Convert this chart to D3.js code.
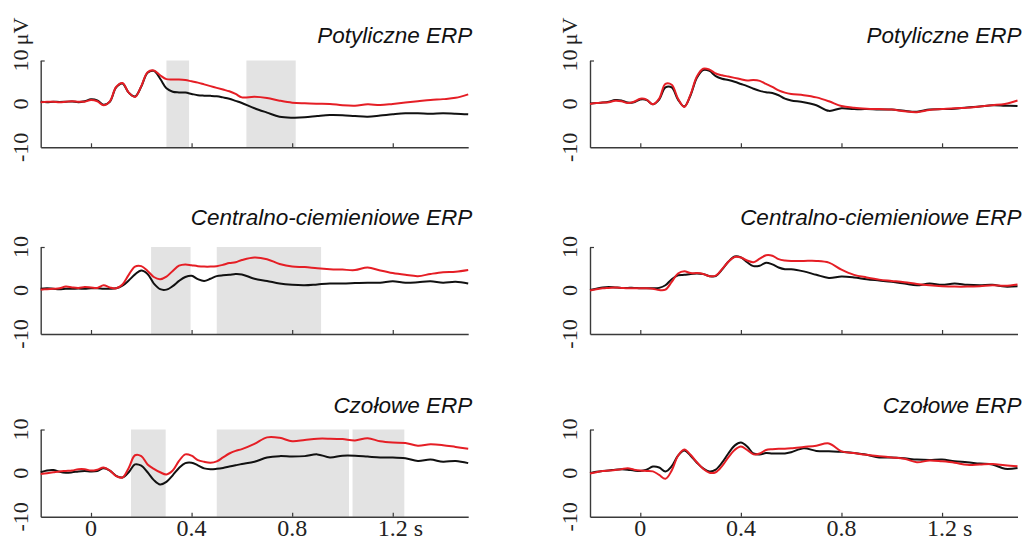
<!DOCTYPE html>
<html><head><meta charset="utf-8">
<script src="https://cdn.jsdelivr.net/npm/d3@7"></script>
<style>html,body{margin:0;padding:0;background:#fff;}svg{display:block;}</style>
</head><body>
<svg id="chart" width="1024" height="542"></svg>
<script>
const times = [-0.2,-0.175,-0.15,-0.125,-0.1,-0.075,-0.05,-0.025,0,0.025,0.05,0.075,0.1,0.125,0.15,0.175,0.2,0.225,0.25,0.275,0.3,0.325,0.35,0.375,0.4,0.425,0.45,0.475,0.5,0.525,0.55,0.575,0.6,0.65,0.7,0.75,0.8,0.85,0.9,0.95,1.0,1.05,1.1,1.15,1.2,1.25,1.3,1.35,1.4,1.45,1.5];

const tl_black = [0.5,0.4,0.5,0.45,0.5,0.55,0.4,0.6,1.05,0.8,-0.2,0.5,3.8,4.7,2.6,1.7,4.0,7.2,7.6,5.8,3.6,2.8,2.65,2.6,2.3,2.0,1.9,1.85,1.75,1.5,1.2,0.7,0.2,-1.0,-2.0,-2.95,-3.17,-3.1,-2.8,-2.56,-2.6,-2.8,-2.95,-2.7,-2.4,-2.17,-2.17,-2.25,-2.17,-2.25,-2.4];
const tl_red   = [0.4,0.5,0.5,0.4,0.5,0.6,0.5,0.5,0.9,0.6,-0.3,0.6,3.9,4.8,2.6,1.6,4.1,7.3,7.7,6.6,5.7,5.6,5.6,5.5,5.2,4.9,4.5,4.1,3.7,3.3,2.9,2.3,1.5,1.65,1.36,0.75,0.28,0.13,0.05,0.0,-0.3,-0.4,-0.1,-0.25,0.0,0.3,0.6,0.9,1.1,1.4,2.2];

const tr_black = [0.1,0.2,0.3,0.5,0.9,0.8,0.3,0.4,1.0,0.9,-0.1,1.0,3.8,3.8,1.0,-0.6,2.0,6.0,7.8,7.6,6.4,5.8,5.5,5.1,4.6,4.1,3.5,3.0,2.7,2.5,2.0,1.2,0.8,0.4,-0.3,-1.6,-1.0,-1.2,-1.2,-1.3,-1.3,-1.6,-1.8,-1.3,-1.2,-1.1,-0.8,-0.6,-0.3,-0.4,-0.5];
const tr_red   = [0.0,0.2,0.3,0.4,0.7,0.6,0.2,0.5,1.2,1.0,-0.1,1.2,4.6,4.4,1.2,-0.7,2.2,6.3,8.1,7.9,7.0,6.6,6.3,6.0,5.7,5.4,5.5,5.3,4.6,3.9,3.1,2.6,2.3,2.0,1.5,0.6,-0.5,-0.9,-1.1,-1.2,-1.3,-1.7,-1.9,-1.4,-1.2,-1.0,-0.9,-0.6,-0.3,0.0,0.8];

const ml_black = [0.4,0.5,0.4,0.3,0.4,0.4,0.45,0.4,0.5,0.5,0.4,0.4,0.5,1.1,2.3,3.7,4.6,3.8,1.6,0.3,0.2,1.0,2.2,3.1,3.4,2.6,2.2,2.7,3.3,3.5,3.6,3.8,3.7,2.7,2.2,1.6,1.3,1.2,1.4,1.6,1.6,1.7,1.8,1.8,2.1,1.8,1.9,2.1,1.8,2.0,1.6];
const ml_red   = [0.2,0.3,0.4,0.5,0.9,0.7,0.6,0.8,0.7,0.6,1.2,0.7,0.5,1.4,3.6,5.5,5.6,4.5,3.1,2.6,3.2,4.5,5.7,6.0,5.8,5.6,5.5,5.5,5.6,5.9,6.3,6.5,7.0,7.6,7.2,6.1,5.5,5.4,5.1,4.9,4.8,4.7,5.3,4.6,4.0,3.6,3.3,3.8,4.2,4.3,4.7];

const mr_black = [0.1,0.4,0.7,0.8,0.7,0.6,0.6,0.6,0.5,0.5,0.5,0.6,1.2,2.6,3.5,3.6,3.8,3.9,3.8,3.3,3.3,4.8,6.6,7.8,7.6,6.5,5.6,5.7,6.4,6.0,5.3,4.9,4.9,4.4,3.6,2.9,3.2,3.0,2.6,2.3,2.0,1.6,1.2,1.6,1.3,1.6,1.3,1.2,1.3,0.9,1.0];
const mr_red   = [0.0,0.3,0.5,0.6,0.7,0.6,0.5,0.5,0.5,0.5,0.4,0.1,0.2,2.0,3.9,4.4,4.0,4.0,3.8,3.3,3.4,4.9,6.6,7.7,7.6,6.9,6.5,7.3,8.1,8.0,7.2,6.9,6.8,6.8,6.8,6.4,4.8,3.6,3.0,2.5,2.2,1.9,1.5,1.2,1.0,0.9,0.9,1.0,1.2,1.1,1.4];

const bl_black = [0.2,0.6,0.7,0.3,0.1,0.2,0.4,0.5,0.4,0.5,1.1,0.6,-0.6,-1.0,0.2,2.0,1.7,0.2,-1.6,-2.6,-2.0,-0.5,1.2,2.3,2.4,1.8,1.1,0.9,1.0,1.2,1.5,1.8,2.1,2.6,3.6,3.9,3.8,3.9,4.3,3.6,4.0,4.0,3.8,3.6,3.6,3.4,2.8,3.1,2.6,2.8,2.3];
const bl_red   = [-0.2,0.0,0.2,0.4,0.5,0.6,0.9,0.9,0.6,0.8,1.3,0.6,-0.7,-1.0,1.2,4.1,3.9,2.0,1.0,0.2,-0.3,0.6,2.8,4.3,4.0,3.0,2.6,2.4,2.7,3.6,4.5,5.1,5.5,6.7,8.2,8.1,7.3,7.6,7.9,7.9,7.8,7.5,8.0,7.3,7.0,6.9,6.3,6.6,6.4,6.0,5.6];

const br_black = [0.0,0.3,0.5,0.6,0.8,0.9,0.8,0.6,0.5,0.8,1.5,1.3,0.4,1.6,4.0,5.2,4.0,2.4,1.1,0.4,0.8,2.4,4.5,6.3,7.0,6.1,4.5,4.3,4.6,4.5,4.5,4.5,4.8,5.7,5.1,5.0,4.9,4.6,4.2,3.6,3.6,3.4,3.1,3.0,3.1,2.7,2.5,2.2,2.0,1.0,1.2];
const br_red   = [-0.1,0.2,0.5,0.6,0.7,0.9,1.1,0.8,0.6,0.5,0.4,-0.4,-1.3,0.6,4.0,5.4,4.2,2.5,1.0,0.1,0.2,1.6,3.6,5.3,6.1,5.3,4.3,4.5,5.3,5.5,5.6,5.6,5.7,6.0,6.3,6.8,5.0,4.6,4.2,3.9,3.6,3.3,2.5,2.9,2.7,2.4,1.9,2.0,2.1,1.8,1.6];

const tl_bands = [[0.3,0.39],[0.618,0.814]];
const ml_bands = [[0.239,0.396],[0.5,0.915]];
const bl_bands = [[0.159,0.297],[0.5,1.026],[1.04,1.246]];
const no_bands = [];

const rowTitles = ["Potyliczne ERP","Centralno-ciemieniowe ERP","Czołowe ERP"];
const yTicks = [-10,0,10];
const yTickLabels = ["-10","0","10"];
const xTicks = [0,0.4,0.8,1.2];
const xTickLabels = ["0","0.4","0.8","1.2"];
const yUnit = "μV";
const xUnit = "s";

const svg = d3.select("#chart");
const colX = [[40.7,468.2],[590,1017.5]];
const rowY = [[60.5,147.3],[247,334],[429.5,516.8]];

const panels = [
  {r:0,c:0,black:tl_black,red:tl_red,bands:tl_bands},
  {r:0,c:1,black:tr_black,red:tr_red,bands:no_bands},
  {r:1,c:0,black:ml_black,red:ml_red,bands:ml_bands},
  {r:1,c:1,black:mr_black,red:mr_red,bands:no_bands},
  {r:2,c:0,black:bl_black,red:bl_red,bands:bl_bands},
  {r:2,c:1,black:br_black,red:br_red,bands:no_bands}
];

const axisColor = "#3a3a3a";
const serif = "'Liberation Serif','Times New Roman',serif";
panels.forEach(p => {
  const x = d3.scaleLinear().domain([-0.2,1.5]).range(colX[p.c]);
  const y = d3.scaleLinear().domain([-10,10]).range([rowY[p.r][1], rowY[p.r][0]]);
  const g = svg.append("g");
  g.selectAll("rect.band").data(p.bands).enter().append("rect")
    .attr("x", d => x(d[0])).attr("width", d => x(d[1]) - x(d[0]))
    .attr("y", y(10)).attr("height", y(-10) - y(10))
    .attr("fill", "#e3e3e3");
  const xa = g.append("g").attr("transform", `translate(0,${y(-10)})`)
    .call(d3.axisBottom(x).tickValues(xTicks).tickSizeInner(-4).tickSizeOuter(0).tickFormat(""));
  xa.select(".domain").attr("stroke", axisColor).attr("stroke-width", 1.4);
  xa.selectAll(".tick line").attr("stroke", axisColor).attr("stroke-width", 1.2);
  const ya = g.append("g").attr("transform", `translate(${colX[p.c][0]},0)`)
    .call(d3.axisLeft(y).tickValues([10]).tickSizeInner(-4).tickSizeOuter(0).tickFormat(""));
  ya.select(".domain").attr("stroke", axisColor).attr("stroke-width", 1.4);
  ya.selectAll(".tick line").attr("stroke", axisColor).attr("stroke-width", 1.2);
  const ax = colX[p.c][0];
  yTicks.forEach((v,i) => {
    g.append("text").attr("transform", `translate(${ax-13},${y(v)}) rotate(-90)`)
      .attr("text-anchor","middle")
      .style("font-family",serif).style("font-size","22px")
      .attr("fill","#222").text(yTickLabels[i]);
  });
  if (p.r === 0) {
    g.append("text").attr("transform", `translate(${ax-13},${y(10)-29}) rotate(-90)`)
      .attr("text-anchor","middle")
      .style("font-family",serif).style("font-size","22px")
      .attr("fill","#222").text(yUnit);
  }
  if (p.r === 2) {
    xTicks.forEach((v,i) => {
      g.append("text").attr("x", x(v)).attr("y", 536).attr("text-anchor","middle")
        .style("font-family",serif).style("font-size","24px")
        .attr("fill","#222").text(xTickLabels[i]);
    });
    g.append("text").attr("x", x(1.2) + 21).attr("y", 536).attr("text-anchor","start")
      .style("font-family",serif).style("font-size","24px")
      .attr("fill","#222").text(xUnit);
  }
  const titleY = [43, 225, 412.5][p.r];
  g.append("text").attr("x", colX[p.c][1] + 4).attr("y", titleY).attr("text-anchor","end")
    .style("font-family","'Liberation Sans',Arial,sans-serif").style("font-style","italic").style("font-size","22.5px")
    .attr("fill","#111").text(rowTitles[p.r]);
  const line = d3.line().x((d,i) => x(times[i])).y(d => y(d)).curve(d3.curveCatmullRom.alpha(0.5));
  g.append("path").datum(p.black).attr("d", line).attr("fill","none").attr("stroke","#111").attr("stroke-width",2);
  g.append("path").datum(p.red).attr("d", line).attr("fill","none").attr("stroke","#e51e25").attr("stroke-width",2);
});
</script>
</body></html>
